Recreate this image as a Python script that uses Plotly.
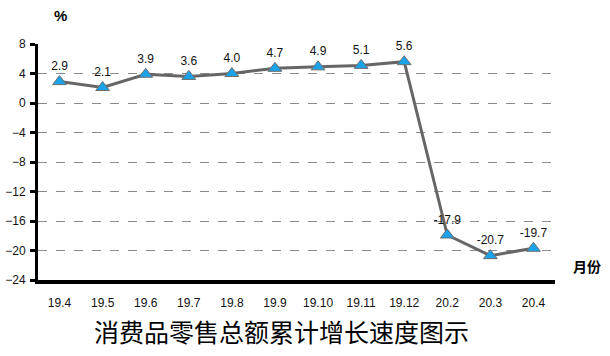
import plotly.graph_objects as go

months = ["19.4", "19.5", "19.6", "19.7", "19.8", "19.9", "19.10", "19.11", "19.12", "20.2", "20.3", "20.4"]
growth = [2.9, 2.1, 3.9, 3.6, 4.0, 4.7, 4.9, 5.1, 5.6, -17.9, -20.7, -19.7]
labels = ["2.9", "2.1", "3.9", "3.6", "4.0", "4.7", "4.9", "5.1", "5.6", "-17.9", "-20.7", "-19.7"]
y_ticks = [8, 4, 0, -4, -8, -12, -16, -20, -24]

L, R, T, B = 38, 55, 44, 76
W, H = 610, 356

fig = go.Figure()
fig.add_trace(go.Scatter(
    x=months, y=growth, mode="lines+markers+text",
    text=labels, textposition="top center",
    textfont=dict(family="Liberation Sans, Arial", size=12, color="#111111"),
    line=dict(color="#666666", width=3),
    marker=dict(symbol="triangle-up", size=12, color="#1AA3E8",
                line=dict(color="#6e6e6e", width=1)),
    cliponaxis=False,
    hoverinfo="skip",
))

def px_to_paper(px, py):
    pw = W - L - R
    ph = H - T - B
    return (px - L) / pw, 1 - (py - T) / ph

ax1, ay1 = px_to_paper(60, 15)
ax2, ay2 = px_to_paper(587, 266)
ax3, ay3 = px_to_paper(281, 331)

fig.update_layout(
    width=W, height=H,
    margin=dict(l=L, r=R, t=T, b=B, autoexpand=False),
    paper_bgcolor="white", plot_bgcolor="white",
    showlegend=False,
    xaxis=dict(
        type="category", range=[-0.5, len(months) - 0.5],
        showgrid=False, showline=True, linecolor="black", linewidth=4,
        ticks="", tickfont=dict(family="Liberation Sans, Arial", size=12, color="#111111"),
        ticklabelstandoff=9, automargin=False,
    ),
    yaxis=dict(
        range=[-24, 8], tickvals=y_ticks, showgrid=True,
        gridcolor="#8a8a8a", griddash="dash", gridwidth=1,
        showline=True, linecolor="black", linewidth=3,
        ticks="outside", ticklen=5, tickwidth=3, tickcolor="black",
        tickfont=dict(family="Liberation Sans, Arial", size=12, color="#111111"),
        zeroline=False, automargin=False, ticklabelstandoff=2,
    ),
    annotations=[
        dict(text="<b>%</b>", x=ax1, y=ay1, xref="paper", yref="paper", showarrow=False,
             font=dict(family="Liberation Sans, Arial", size=15, color="black"),
             xanchor="center", yanchor="middle"),
        dict(text="<b>月份</b>", x=ax2, y=ay2, xref="paper", yref="paper", showarrow=False,
             font=dict(family="Noto Sans CJK SC", size=14, color="black"),
             xanchor="center", yanchor="middle"),
        dict(text="消费品零售总额累计增长速度图示", x=ax3, y=ay3, xref="paper", yref="paper",
             showarrow=False,
             font=dict(family="Noto Sans CJK SC", size=25, color="black"),
             xanchor="center", yanchor="middle"),
    ],
)

fig.write_html("out.html", config={"displayModeBar": False},
               post_script="document.body.style.margin='0';")
